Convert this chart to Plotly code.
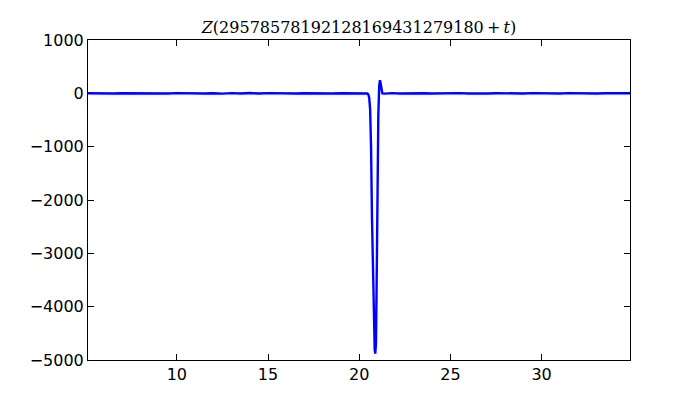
import plotly.graph_objects as go

t_flat_left = [5.13, 5.5, 6.0, 6.5, 7.0, 7.5, 8.0, 8.5, 9.0, 9.5, 10.0, 10.5, 11.0, 11.5,
               12.0, 12.5, 13.0, 13.5, 14.0, 14.5, 15.0, 15.5, 16.0, 16.5, 17.0, 17.5,
               18.0, 18.5, 19.0, 19.5, 20.0, 20.3, 20.45]
z_flat_left = [1, -2, 2, -3, 2, -1, 3, -2, 1, -4, 3, -2, 4, -3, 2, -5, 4, -3, 5, -4,
               3, -2, 4, -3, 2, -3, 3, -2, 2, -1, 1, -2, -4]

t_spike = [20.5, 20.55, 20.6, 20.65, 20.7, 20.75, 20.8, 20.85, 20.88, 20.92, 20.96,
           21.0, 21.05, 21.1, 21.14, 21.18, 21.22, 21.27]
z_spike = [-20, -80, -300, -1000, -2300, -3400, -4300, -4800, -4880, -4700, -3500,
           -1700, -400, 150, 245, 180, 60, 0]

t_flat_right = [21.4, 21.8, 22.2, 22.6, 23.0, 23.5, 24.0, 24.5, 25.0, 25.5, 26.0, 26.5,
                27.0, 27.5, 28.0, 28.5, 29.0, 29.5, 30.0, 30.5, 31.0, 31.5, 32.0, 32.5,
                33.0, 33.5, 34.0, 34.5, 34.85]
z_flat_right = [-5, 4, -3, 2, -3, 2, -2, 3, -1, 3, -4, 3, -2, 2, -3, 2, -2, 3, -3,
                4, -3, 3, -2, 4, -3, 2, -1, 2, 1]

t = t_flat_left + t_spike + t_flat_right
z = z_flat_left + z_spike + z_flat_right

x_ticks = [10, 15, 20, 25, 30]
y_ticks = [-5000, -4000, -3000, -2000, -1000, 0, 1000]

fig = go.Figure()
fig.add_trace(go.Scatter(x=t, y=z, mode="lines",
                         line=dict(color="#0000ff", width=2.4), hoverinfo="skip"))

axis_common = dict(showgrid=False, zeroline=False, showline=True, linecolor="black",
                   linewidth=1, mirror="ticks", ticks="inside", ticklen=6,
                   tickcolor="black", tickwidth=1,
                   tickfont=dict(family="DejaVu Sans", size=16, color="black"))

fig.update_layout(
    width=700, height=400,
    margin=dict(l=80, r=78, t=32, b=48),
    paper_bgcolor="white", plot_bgcolor="white",
    showlegend=False,
    title=dict(text="<i>Z</i>(29578578192128169431279180\u2009+\u2009<i>t</i>)",
               x=(80 + 622) / 2 / 700, xanchor="center", y=0.952, yanchor="middle",
               font=dict(family="DejaVu Serif", size=16, color="black")),
    xaxis=dict(range=[5.13, 34.85], tickvals=x_ticks, **axis_common),
    yaxis=dict(range=[-5000, 1000], tickvals=y_ticks, **axis_common),
)

fig.write_html("out.html")
